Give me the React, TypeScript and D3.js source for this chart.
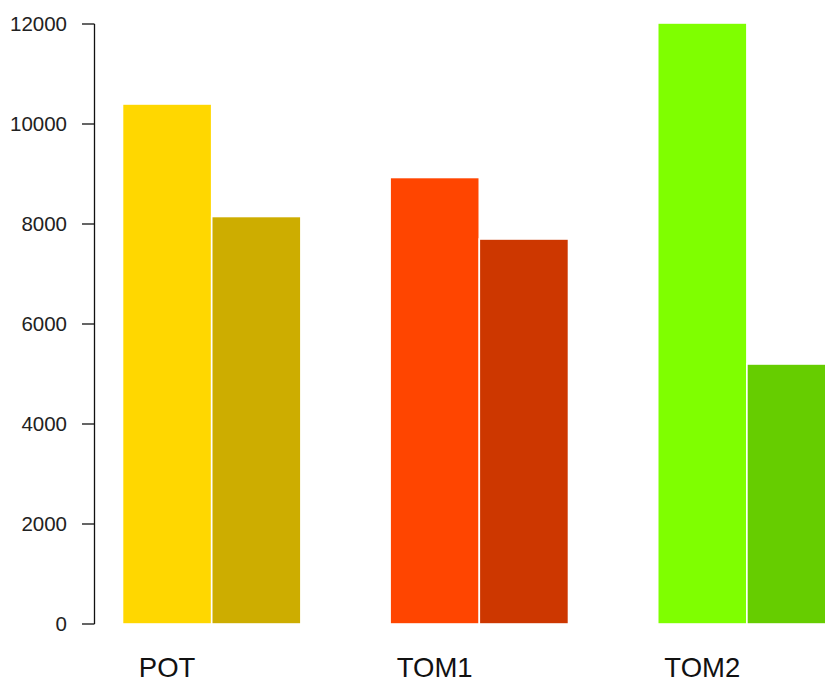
import React from "react";
import * as d3 from "d3";

// Paired yields per crop (first and second measurement)
const categories = ["POT", "TOM1", "TOM2"];
const firstValues = [10400, 8930, 12020];
const secondValues = [8150, 7700, 5200];
const firstColors = ["#FFD700", "#FF4500", "#7FFF00"];
const secondColors = ["#CDAD00", "#CD3700", "#66CD00"];
const yTicks = [0, 2000, 4000, 6000, 8000, 10000, 12000];

const W = 825;
const H = 681;

export default function App() {
  // Bar units: each bar is 1 unit wide, groups separated by a 1-unit gap
  const x = d3.scaleLinear().domain([1, 7]).range([122.5, 657.7]);
  const y = d3.scaleLinear().domain([0, 12000]).range([624, 24]);
  const axisX = 94.5;
  const font = "'Liberation Sans', Arial, sans-serif";

  const bars = categories.flatMap((c, i) => {
    const start = 1 + i * 3;
    return [
      { key: c + "-a", x0: start, x1: start + 1, v: firstValues[i], fill: firstColors[i] },
      { key: c + "-b", x0: start + 1, x1: start + 2, v: secondValues[i], fill: secondColors[i] },
    ];
  });

  return (
    <svg
      width={W}
      height={H}
      style={{ position: "absolute", left: 0, top: 0, background: "#fff" }}
    >
      <rect width={W} height={H} fill="#fff" />
      {bars.map((b) => (
        <rect
          key={b.key}
          x={x(b.x0)}
          y={y(b.v)}
          width={x(b.x1) - x(b.x0)}
          height={y(0) - y(b.v)}
          fill={b.fill}
          stroke="#fff"
          strokeWidth={1.6}
        />
      ))}
      <g>
        <line
          x1={axisX}
          x2={axisX}
          y1={y(0)}
          y2={y(12000)}
          stroke="#111"
          strokeWidth={1.3}
        />
        {yTicks.map((t) => (
          <g key={t}>
            <line
              x1={axisX - 12.5}
              x2={axisX}
              y1={y(t)}
              y2={y(t)}
              stroke="#111"
              strokeWidth={1.3}
            />
            <text
              x={67}
              y={y(t)}
              dy="0.36em"
              textAnchor="end"
              fontFamily={font}
              fontSize={20.5}
              fill="#222"
            >
              {t}
            </text>
          </g>
        ))}
      </g>
      {categories.map((c, i) => (
        <text
          key={c}
          x={(x(1 + i * 3) + x(2 + i * 3)) / 2}
          y={676.5}
          textAnchor="middle"
          fontFamily={font}
          fontSize={27.5}
          fill="#111"
        >
          {c}
        </text>
      ))}
    </svg>
  );
}
